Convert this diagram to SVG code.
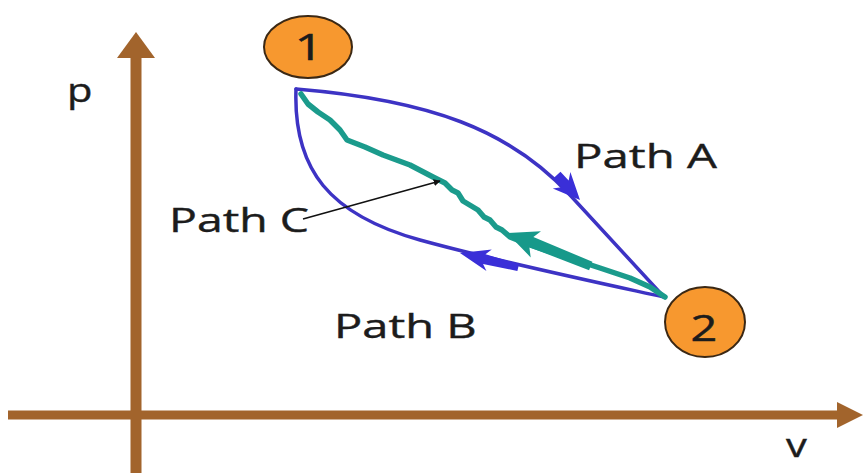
<svg xmlns="http://www.w3.org/2000/svg" width="864" height="473" viewBox="0 0 864 473">
<defs>
<style>
.axis{stroke:#a2642c;fill:none}
.axhead{fill:#a2642c}
.blue{stroke:#3d33c4;stroke-width:3.5;fill:none;stroke-linecap:round;stroke-linejoin:round}
.bluefill{fill:#3a2fd8}
.teal{stroke:#1b9b8c;stroke-width:5.5;fill:none;stroke-linecap:round;stroke-linejoin:round}
.tealfill{fill:#17998a}
.node{fill:#f7982f;stroke:#3b2814;stroke-width:2}
.lbl{font-family:"Open Sans","Noto Sans",sans-serif;font-size:32px;fill:#1c1c1c;stroke:#1c1c1c;stroke-width:0.4}
.num{font-family:"Open Sans","Noto Sans",sans-serif;font-size:36px;fill:#1c1c1c;stroke:#1c1c1c;stroke-width:0.5;text-anchor:middle}
</style>
<marker id="blk" viewBox="0 0 10 10" refX="9" refY="5" markerWidth="7" markerHeight="7" orient="auto" markerUnits="userSpaceOnUse">
<path d="M0,0 L10,5 L0,10 z" fill="#111"/>
</marker>
</defs>
<rect width="864" height="473" fill="#ffffff"/>
<g id="axes">
<line class="axis" x1="136" y1="55" x2="136" y2="473" stroke-width="11"/>
<polygon class="axhead" points="136,32 117,58 155,58"/>
<line class="axis" x1="8" y1="415" x2="840" y2="415" stroke-width="9"/>
<polygon class="axhead" points="863,415 837,402 837,428"/>
<text class="lbl" transform="translate(67,102) scale(1.3,1)" x="0" y="0">p</text>
<text class="lbl" transform="translate(786,457) scale(1.3,1)" x="0" y="0">v</text>
</g>
<g id="connectors">
<g id="pathA">
<path class="blue" d="M296,89 C430,100 510,130 570,195 L664,297"/>
<polygon class="bluefill" transform="translate(580,200) rotate(47)" points="0,0 -27,-12 -22,-5 -34,-5 -34,5 -22,5 -27,12"/>
</g>
<g id="pathB">
<path class="blue" d="M296,89 C293,170 330,215 420,240 C500,262 600,283 664,297"/>
<polygon class="bluefill" transform="translate(460,253) rotate(194)" points="0,0 -30,-11 -25,-5 -60,-3.5 -60,3.5 -25,5 -30,11"/>
</g>
<g id="pathC">
<polyline class="teal" points="301,94 308,104 318,112 330,120 340,130 347,140 365,147 383,155 410,165 433,177 445,183 452,190 458,193 463,201 468,204 478,210 484,217 490,220 496,227 502,230 510,237 530,245 560,255 600,268 630,278 650,287 665,297"/>
<polygon class="tealfill" transform="translate(507,233) rotate(201.5)" points="0,0 -31,-14 -26,-5 -90,-4.5 -90,4.5 -26,6 -31,14"/>
</g>
<line id="pathC-pointer" x1="303" y1="219" x2="440" y2="181" stroke="#111" stroke-width="1.6" marker-end="url(#blk)"/>
</g>
<g id="node1">
<ellipse class="node" cx="308" cy="47" rx="44" ry="31"/>
<text class="num" transform="translate(309,60) scale(1.4,1)" x="0" y="0">1</text>
</g>
<g id="node2">
<ellipse class="node" cx="705" cy="322" rx="40" ry="35"/>
<text class="num" transform="translate(704,341) scale(1.3,1)" x="0" y="0">2</text>
</g>
<g id="labels">
<text class="lbl" transform="translate(574,168) scale(1.48,1)" x="0" y="0">Path A</text>
<text class="lbl" transform="translate(334,338) scale(1.47,1)" x="0" y="0">Path B</text>
<text class="lbl" transform="translate(169,232) scale(1.45,1)" x="0" y="0">Path C</text>
</g>
</svg>
